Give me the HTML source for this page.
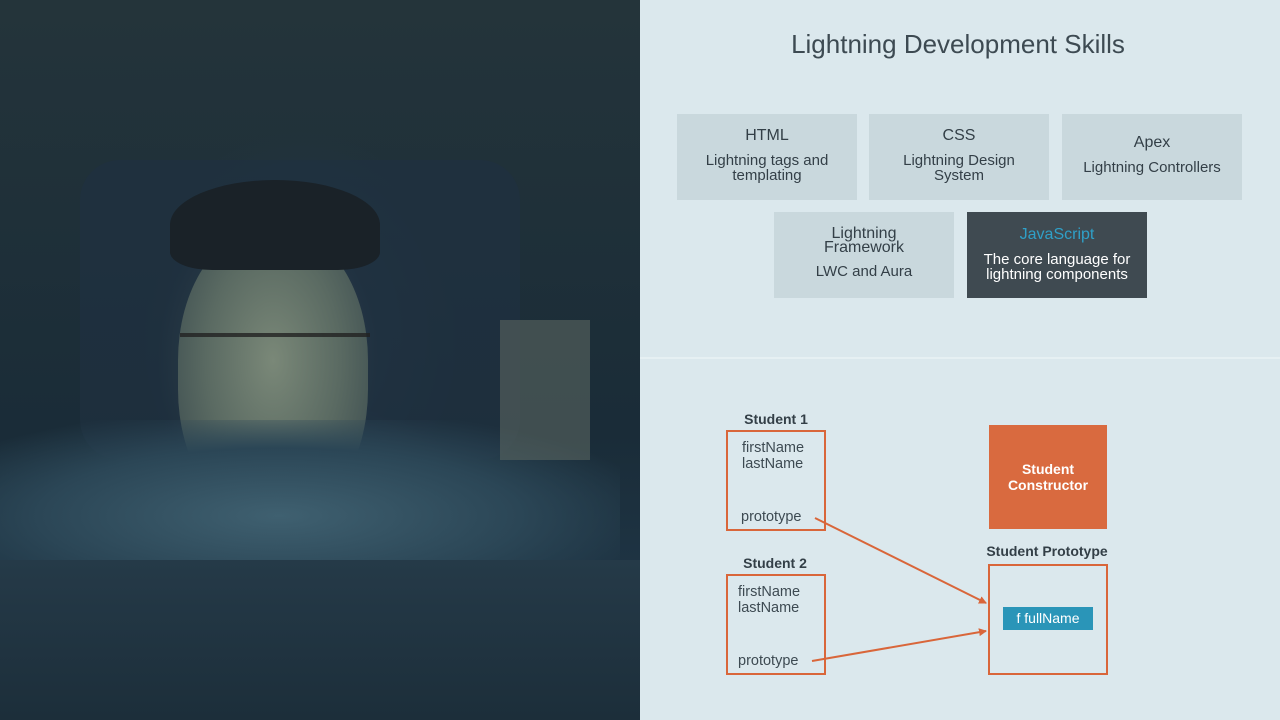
<!DOCTYPE html>
<html><head><style>
*{margin:0;padding:0;box-sizing:border-box}
body{width:1280px;height:720px;position:relative;overflow:hidden;background:#dbe8ed;font-family:"Liberation Sans",sans-serif}
.photo{position:absolute;left:0;top:0;width:640px;height:720px;overflow:hidden;
background:radial-gradient(ellipse 110px 150px at 268px 360px,#6c7a70 0%,#4a5a58 45%,rgba(30,45,55,0) 100%),
radial-gradient(ellipse 200px 120px at 290px 520px,#3f5a6a 0%,rgba(30,50,65,0) 100%),
radial-gradient(ellipse 160px 200px at 300px 330px,#25384a 0%,rgba(20,35,50,0) 100%),
linear-gradient(180deg,#24343a 0%,#1a2c38 60%,#1e3444 80%,#1a2a36 100%)}
.abs{position:absolute}
.box{position:absolute;background:#c9d8dd;color:#333f47;text-align:center;font-size:15px;line-height:15px}
.box .t{font-size:16px;margin-bottom:10px}
.lbl{position:absolute;font-size:14px;font-weight:bold;color:#333f47;transform:translateX(-50%);white-space:nowrap}
.ob{position:absolute;border:2px solid #d9663a}
.tx{position:absolute;font-size:14.5px;color:#3d4a52;line-height:16px}
</style></head><body>
<div class="photo">
<div class="abs" style="left:80px;top:160px;width:440px;height:300px;background:#1f3040;border-radius:40px;opacity:.7"></div>
<div class="abs" style="left:178px;top:230px;width:190px;height:290px;background:radial-gradient(ellipse at 50% 45%,#7a8878 0%,#5a6a62 50%,#33444a 100%);border-radius:45%"></div>
<div class="abs" style="left:170px;top:180px;width:210px;height:90px;background:#1a2228;border-radius:50% 50% 20% 20%"></div>
<div class="abs" style="left:180px;top:333px;width:190px;height:60px;border-top:4px solid #222;opacity:.8"></div>
<div class="abs" style="left:0;top:420px;width:620px;height:160px;background:radial-gradient(ellipse at 45% 60%,#3f6070 0%,#2b4656 50%,rgba(30,50,60,0) 80%)"></div>
<div class="abs" style="left:0;top:560px;width:640px;height:160px;background:linear-gradient(180deg,#253a48,#1c2e3a)"></div>
<div class="abs" style="left:500px;top:320px;width:90px;height:140px;background:#5a6660;opacity:.6"></div>
</div>
<div class="abs" style="left:640px;top:29px;width:636px;text-align:center;font-size:26px;color:#3d4a52">Lightning Development Skills</div>
<div class="box" style="left:677px;top:114px;width:180px;height:86px;padding-top:14px"><div class="t">HTML</div>Lightning tags and<br>templating</div>
<div class="box" style="left:869px;top:114px;width:180px;height:86px;padding-top:14px"><div class="t">CSS</div>Lightning Design<br>System</div>
<div class="box" style="left:1062px;top:114px;width:180px;height:86px;padding-top:21px"><div class="t">Apex</div>Lightning Controllers</div>
<div class="box" style="left:774px;top:212px;width:180px;height:86px;padding-top:15px"><div class="t" style="margin-bottom:9px;line-height:14px">Lightning<br>Framework</div>LWC and Aura</div>
<div class="box" style="left:967px;top:212px;width:180px;height:86px;padding-top:15px;background:#3f4a51;color:#fff"><div class="t" style="color:#2fa0c8">JavaScript</div>The core language for<br>lightning components</div>
<div class="abs" style="left:640px;top:357px;width:640px;height:2px;background:#e6f0f3"></div>

<div class="lbl" style="left:776px;top:411px">Student 1</div>
<div class="ob" style="left:726px;top:430px;width:100px;height:101px"></div>
<div class="tx" style="left:742px;top:440px">firstName<br>lastName</div>
<div class="tx" style="left:741px;top:509px">prototype</div>
<div class="lbl" style="left:775px;top:555px">Student 2</div>
<div class="ob" style="left:726px;top:574px;width:100px;height:101px"></div>
<div class="tx" style="left:738px;top:584px">firstName<br>lastName</div>
<div class="tx" style="left:738px;top:653px">prototype</div>

<div class="abs" style="left:989px;top:425px;width:118px;height:104px;background:#d96a3f;color:#fff;font-weight:bold;font-size:14px;text-align:center;padding-top:36px;line-height:16px">Student<br>Constructor</div>
<div class="lbl" style="left:1047px;top:543px">Student Prototype</div>
<div class="ob" style="left:988px;top:564px;width:120px;height:111px"></div>
<div class="abs" style="left:1003px;top:607px;width:90px;height:23px;background:#2a95b8;color:#fff;font-size:14px;text-align:center;line-height:23px">f fullName</div>
<svg class="abs" style="left:0;top:0" width="1280" height="720">
<defs><marker id="a" markerWidth="8" markerHeight="8" refX="7" refY="4" orient="auto" markerUnits="userSpaceOnUse"><path d="M0,0 L8,4 L0,8 z" fill="#d9663a"/></marker></defs>
<line x1="815" y1="518" x2="986" y2="603" stroke="#d9663a" stroke-width="2" marker-end="url(#a)"/>
<line x1="812" y1="661" x2="986" y2="631" stroke="#d9663a" stroke-width="2" marker-end="url(#a)"/>
</svg>
</body></html>
